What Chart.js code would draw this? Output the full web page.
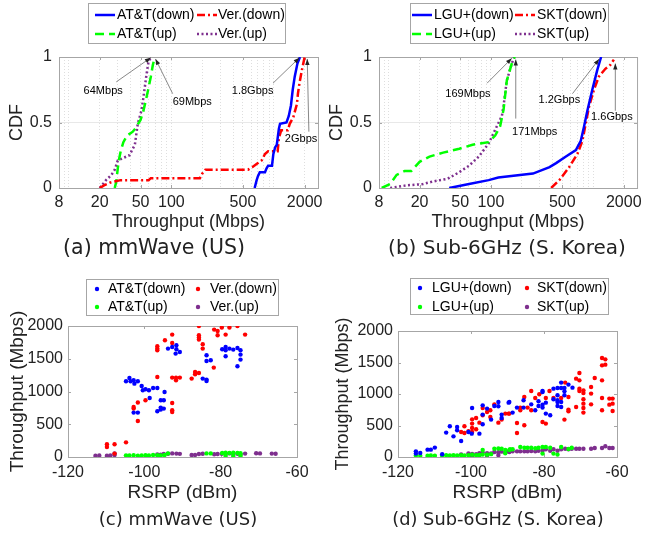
<!DOCTYPE html><html><head>
<title>Throughput CDF and RSRP</title>
<style>
  body { margin: 0; background: #fff; }
  #wrap { position: relative; width: 647px; height: 534px; overflow: hidden; }
  canvas { position: absolute; left: 0; top: 0; }
  .cap { position: absolute; font-family: 'DejaVu Sans', sans-serif; color: #222; white-space: nowrap; transform: translate(-50%, -50%); }
</style>
</head>
<body>
<div id="wrap">
  <canvas id="cdfUS" width="647" height="534"></canvas>
  <canvas id="cdfKR" width="647" height="534"></canvas>
  <canvas id="rsrpUS" width="647" height="534"></canvas>
  <canvas id="rsrpKR" width="647" height="534"></canvas>
  <div class="cap" style="left:154px;top:247px;font-size:20.5px">(a) mmWave (US)</div>
  <div class="cap" style="left:507px;top:247px;font-size:20px">(b) Sub-6GHz (S. Korea)</div>
  <div class="cap" style="left:178px;top:518px;font-size:18px">(c) mmWave (US)</div>
  <div class="cap" style="left:498px;top:518px;font-size:17.8px">(d) Sub-6GHz (S. Korea)</div>
</div>
<script src="https://cdn.jsdelivr.net/npm/chart.js"></script>
<script>
// ---- data ----
const usLabels = ['AT&T(down)', 'Ver.(down)', 'AT&T(up)', 'Ver.(up)'];
const krLabels = ['LGU+(down)', 'SKT(down)', 'LGU+(up)', 'SKT(up)'];

// (a) CDF, mmWave US  (throughput Mbps, cdf)
const usAttDownX = [650, 680, 700, 730, 820, 850, 880, 960, 990, 1030, 1070, 1120, 1150, 1330, 1400, 1470, 1530, 1600, 1700, 1800];
const usAttDownY = [0, 0.06, 0.09, 0.12, 0.12, 0.15, 0.17, 0.17, 0.26, 0.31, 0.33, 0.45, 0.49, 0.5, 0.55, 0.63, 0.75, 0.85, 0.95, 1];
const usVerDownX = [20, 22, 25, 28, 32, 60, 63, 190, 200, 215, 560, 620, 700, 760, 820, 880, 1090, 1120, 1180, 1370, 1430, 1550, 1680, 1720, 1780, 1880, 2000];
const usVerDownY = [0, 0.02, 0.04, 0.05, 0.06, 0.06, 0.075, 0.075, 0.11, 0.14, 0.14, 0.16, 0.19, 0.21, 0.26, 0.28, 0.28, 0.38, 0.44, 0.44, 0.49, 0.54, 0.64, 0.72, 0.8, 0.9, 1];
const usAttUpX = [28, 29, 30.5, 32, 34, 37, 42, 45, 50, 53, 56, 59, 63, 66, 69];
const usAttUpY = [0, 0.05, 0.2, 0.28, 0.35, 0.4, 0.43, 0.46, 0.52, 0.58, 0.66, 0.74, 0.85, 0.94, 1];
const usVerUpX = [20, 23, 26, 28, 30, 34, 39, 42, 44, 47, 51, 54, 57, 60, 64];
const usVerUpY = [0, 0.06, 0.1, 0.14, 0.21, 0.23, 0.25, 0.3, 0.33, 0.49, 0.59, 0.72, 0.86, 0.97, 1];

// (b) CDF, Sub-6GHz Korea
const krLguDownX = [39, 61, 95, 118, 258, 375, 435, 543, 679, 759, 817, 880, 984, 1100, 1200];
const krLguDownY = [0, 0.03, 0.06, 0.08, 0.11, 0.16, 0.19, 0.24, 0.29, 0.36, 0.47, 0.59, 0.75, 0.9, 1];
const krSktDownX = [389, 468, 585, 703, 787, 848, 913, 1021, 1141, 1322, 1479, 1600];
const krSktDownY = [0, 0.06, 0.16, 0.26, 0.36, 0.49, 0.62, 0.75, 0.85, 0.91, 0.94, 0.98];
const krLguUpX = [8.5, 10.3, 11.9, 14.3, 16.6, 20, 25, 34, 49, 66, 95, 110, 123, 133, 143, 160, 171];
const krLguUpY = [0, 0.03, 0.1, 0.13, 0.13, 0.2, 0.24, 0.27, 0.3, 0.33, 0.35, 0.4, 0.47, 0.6, 0.82, 0.95, 1];
const krSktUpX = [10.3, 14.9, 21.6, 27, 37.6, 48.7, 61, 76, 95, 114, 128, 133, 143, 160, 169];
const krSktUpY = [0, 0.02, 0.03, 0.05, 0.07, 0.12, 0.17, 0.24, 0.34, 0.47, 0.55, 0.63, 0.82, 0.95, 1];

// callouts: [text, textX, textY, tailX, tailY, headX, headY] in data units
const usNotes = [
  ['64Mbps', 21.6, 0.74, 29, 0.81, 63, 0.995],
  ['69Mbps', 160, 0.66, 103, 0.72, 70, 0.985],
  ['1.8Gbps', 621, 0.74, 982, 0.80, 1780, 0.995],
  ['2Gbps', 1845, 0.377, 2200, 0.43, 2120, 0.985]
];
const krNotes = [
  ['169Mbps', 59.5, 0.72, 91.6, 0.80, 160, 0.99],
  ['171Mbps', 268, 0.43, 175, 0.53, 175, 0.98],
  ['1.2Gbps', 468, 0.67, 629, 0.72, 1150, 0.985],
  ['1.6Gbps', 1531, 0.54, 1654, 0.59, 1654, 0.95]
];

// (c) RSRP scatter, mmWave US  (dBm, Mbps)
const usAttDownRsrp = [-104.8,-103.9,-103.6,-102.8,-102.6,-101.7,-100.7,-100.4,-99.7,-98.8,-97.7,-96.6,-94.7,-98.6,-102.8,-101.7,-95.7,-94.9,-96.6,-95.7,-95.7,-94.9,-93.8,-92.7,-91.6,-91.6,-90.7,-91.8,-83.7,-83.7,-82.6,-84.7,-83.7,-83.7,-79.6,-78.7,-78.7,-78.7,-77.7,-76.7,-75.6,-74.8,-74.8,-74.8,-75.6];
const usAttDownTput = [1156,1207,1156,1171,1120,1156,1084,1018,1034,1018,1054,1054,993,901,678,678,866,866,698,724,754,739,1655,1680,1706,1645,1604,1579,1553,1466,1476,1197,1182,1161,1645,1680,1630,1538,1655,1640,1665,1630,1563,1487,1385];
const usVerDownRsrp = [-109.8,-109.8,-107.8,-107.8,-104.8,-101.7,-102.8,-102.8,-101.7,-99.7,-96.6,-96.6,-96.6,-96.6,-94.6,-92.7,-92.7,-92.7,-92.7,-92.7,-92.7,-91.7,-91.7,-90.7,-85.7,-85.7,-85.7,-85.7,-84.7,-84.7,-81.8,-86.7,-86.7,-85.7,-87.6,-81.7,-80.8,-80.8,-79.7,-78.7,-77.7,-75.6,-73.6];
const usVerDownTput = [194,153,194,52,224,550,763,739,831,866,1222,1690,1655,1630,1782,1869,1741,825,713,688,1212,1212,1171,1212,2000,1858,1823,1793,1721,1655,1365,1298,1263,1283,1197,1945,1924,1858,1976,1869,1976,2000,1869];
const usAttUpRsrp = [-104.8,-103.9,-102.8,-101.7,-100.7,-99.7,-98.8,-97.7,-96.6,-95.7,-94.7,-93.8,-83.7,-82.6,-79.6,-78.7,-78.7,-77.7,-76.7,-76.7,-75.6,-74.8,-74.8];
const usAttUpTput = [25,22,28,20,24,26,22,30,28,25,30,55,55,55,60,65,20,62,64,15,60,58,18];
const usVerUpRsrp = [-112.8,-111.8,-109.8,-108.9,-107.8,-107.8,-96.6,-95.7,-94.9,-93.8,-92.7,-91.6,-90.7,-87.6,-86.7,-85.7,-84.7,-81.7,-80.8,-79.7,-78.7,-77.7,-76.7,-75.6,-74.8,-73.6,-70.7,-69.7,-66.6,-65.6];
const usVerUpTput = [20,22,18,25,30,55,40,35,45,50,55,52,48,30,32,45,50,42,45,48,50,55,45,50,40,52,58,55,52,50];

// (d) RSRP scatter, Sub-6GHz Korea
const krLguDownRsrp = [-115.1,-115.1,-113.9,-111.9,-111.0,-109.9,-107.9,-106.8,-105.8,-104.8,-103.8,-103.8,-102.7,-99.7,-99.8,-100.7,-97.7,-96.8,-96.8,-96.8,-95.6,-94.5,-93.6,-92.5,-92.5,-91.6,-91.6,-89.5,-89.7,-88.6,-87.4,-85.6,-85.6,-83.5,-82.4,-81.5,-81.5,-80.4,-80.4,-80.4,-80.4,-79.5,-79.5,-78.3,-77.4,-77.4,-76.3,-76.3,-76.3,-76.3,-76.3,-75.3,-75.3,-75.3,-75.3,-74.4,-74.4,-74.4,-73.3,-72.2];
const krLguDownTput = [90,54,64,117,117,149,43,387,487,328,476,424,254,778,371,397,371,820,673,519,768,594,809,873,805,673,619,873,863,705,784,784,900,836,741,884,809,1047,1031,831,784,863,689,662,1085,916,1095,979,900,873,809,1181,1095,794,873,1095,1042,979,1149,1101];
const krSktDownRsrp = [-102.7,-101.8,-101.8,-100.7,-99.7,-99.7,-99.7,-99.7,-98.6,-98.6,-97.7,-96.8,-96.8,-95.6,-94.7,-94.7,-93.6,-92.5,-91.6,-90.6,-89.5,-89.7,-87.4,-87.4,-86.5,-86.5,-85.4,-85.4,-84.5,-83.5,-83.5,-82.4,-81.3,-80.4,-79.5,-79.5,-78.5,-77.4,-75.3,-74.4,-74.2,-73.3,-73.3,-73.3,-71.2,-71.2,-70.3,-70.3,-70.3,-70.3,-69.2,-69.2,-69.2,-69.2,-69.2,-69.2,-67.1,-67.1,-67.1,-66.1,-64.1,-64.1,-64.1,-64.1,-64.1,-63.2,-63.2,-62.1,-62.1,-61.2,-61.2,-61.2];
const krSktDownTput = [397,381,487,408,598,530,460,397,619,440,545,778,662,714,741,635,836,545,594,689,689,689,540,381,784,741,952,503,784,1047,741,936,995,556,530,936,1047,936,936,594,1181,952,752,725,1244,794,1333,1217,1085,1047,1058,1016,916,847,778,705,1111,1006,836,1254,1571,1455,1217,936,741,1550,1466,927,831,927,847,730];
const krLguUpRsrp = [-115.1,-113.9,-111.9,-111.0,-109.9,-107.9,-106.8,-105.8,-104.8,-103.8,-102.7,-101.8,-100.7,-99.7,-98.6,-97.7,-96.8,-96.8,-95.6,-94.5,-93.6,-92.5,-91.6,-90.6,-89.5,-90.6,-89.3,-88.6,-86.5,-85.4,-84.5,-83.5,-82.4,-81.5,-80.4,-80.4,-79.5,-78.3,-77.4,-76.3,-75.3,-73.3,-72.4];
const krLguUpTput = [25,22,20,24,22,25,28,26,30,24,28,25,30,35,28,32,111,40,35,45,130,135,130,60,110,110,122,122,159,148,148,148,138,148,159,54,159,148,54,38,159,127,148];
const krSktUpRsrp = [-102.7,-100.7,-99.7,-98.6,-97.7,-96.8,-95.6,-94.5,-93.6,-92.5,-91.6,-90.6,-89.5,-89.7,-88.6,-87.4,-86.5,-85.4,-84.5,-83.5,-82.4,-81.5,-80.4,-79.5,-78.3,-77.4,-76.3,-75.3,-74.2,-73.3,-72.4,-71.2,-70.3,-69.2,-67.1,-66.1,-64.1,-63.2,-62.1,-61.2,-99.7,-97.7,-95.6,-92.5];
const krSktUpTput = [40,55,50,45,60,70,60,55,80,75,85,70,80,90,90,90,90,90,90,95,90,100,100,122,100,122,100,122,130,122,130,130,130,130,130,143,143,170,143,143,20,30,25,30];

// axis ticks
const cdfTicks = [8, 20, 50, 100, 500, 2000];
const cdfGrid = [8, 9, 10, 20, 30, 40, 50, 60, 70, 80, 90, 100, 200, 300, 400, 500, 600, 700, 800, 900, 1000, 2000];

// ---- styling ----
const W = 647, H = 534;
const colors = ['#0000ff', '#ff0000', '#00ff00', '#7e2f8e'];
const dashes = [[], [8, 3, 2, 3], [9, 5], [2, 2.5]];
Chart.defaults.font.family = "'Liberation Sans', Arial, sans-serif";
Chart.defaults.color = '#222';

function pad(box, yW, xH) {
  return { left: box[0] - yW, right: W - box[1], top: box[2], bottom: H - box[3] - xH };
}

// plot frame with short inward ticks (matlab look)
const frame = {
  id: 'frame',
  beforeDatasetsDraw(chart) {
    const { ctx, chartArea: a, scales } = chart;
    ctx.save();
    ctx.strokeStyle = '#a6a6a6';
    ctx.lineWidth = 1;
    ctx.strokeRect(a.left + 0.5, a.top + 0.5, a.right - a.left, a.bottom - a.top);
    ctx.beginPath();
    scales.x.ticks.forEach((t, i) => {
      if (!t.label) return;
      const px = Math.round(scales.x.getPixelForTick(i)) + 0.5;
      ctx.moveTo(px, a.bottom); ctx.lineTo(px, a.bottom - 3);
      ctx.moveTo(px, a.top); ctx.lineTo(px, a.top + 3);
    });
    scales.y.ticks.forEach((t, i) => {
      const py = Math.round(scales.y.getPixelForTick(i)) + 0.5;
      ctx.moveTo(a.left, py); ctx.lineTo(a.left + 3, py);
      ctx.moveTo(a.right, py); ctx.lineTo(a.right - 3, py);
    });
    ctx.stroke();
    ctx.restore();
  }
};

// boxed 2x2 legend
const keyBox = {
  id: 'keyBox',
  afterDraw(chart, args, o) {
    const ctx = chart.ctx;
    ctx.save();
    ctx.fillStyle = '#fff';
    ctx.fillRect(o.x, o.y, o.w, o.h);
    ctx.strokeStyle = '#a6a6a6';
    ctx.lineWidth = 1;
    ctx.strokeRect(o.x + 0.5, o.y + 0.5, o.w, o.h);
    ctx.font = "14px 'Liberation Sans', Arial, sans-serif";
    ctx.textBaseline = 'middle';
    chart.data.datasets.forEach((ds, i) => {
      const col = i % 2, row = Math.floor(i / 2);
      const sx = o.sampleX[col], y = o.rowY[row];
      if (o.lines) {
        ctx.strokeStyle = ds.borderColor;
        ctx.lineWidth = ds.borderWidth;
        ctx.setLineDash(ds.borderDash);
        ctx.beginPath(); ctx.moveTo(sx, y); ctx.lineTo(sx + 20, y); ctx.stroke();
        ctx.setLineDash([]);
      } else {
        ctx.fillStyle = ds.backgroundColor;
        ctx.beginPath(); ctx.arc(sx, y, ds.pointRadius, 0, Math.PI * 2); ctx.fill();
      }
      ctx.fillStyle = '#000';
      ctx.fillText(ds.label, o.textX[col], y);
    });
    ctx.restore();
  }
};

// text + arrow callouts
const callouts = {
  id: 'callouts',
  afterDatasetsDraw(chart, args, o) {
    if (!o.items) return;
    const { ctx, scales: { x, y } } = chart;
    ctx.save();
    ctx.font = "11px 'Liberation Sans', Arial, sans-serif";
    ctx.textAlign = 'center';
    ctx.textBaseline = 'middle';
    o.items.forEach(n => {
      const tx = x.getPixelForValue(n[1]), ty = y.getPixelForValue(n[2]);
      const ax = x.getPixelForValue(n[3]), ay = y.getPixelForValue(n[4]);
      const hx = x.getPixelForValue(n[5]), hy = y.getPixelForValue(n[6]);
      ctx.fillStyle = '#000';
      ctx.fillText(n[0], tx, ty);
      ctx.strokeStyle = '#555';
      ctx.lineWidth = 0.7;
      ctx.beginPath(); ctx.moveTo(ax, ay); ctx.lineTo(hx, hy); ctx.stroke();
      const ang = Math.atan2(hy - ay, hx - ax);
      ctx.fillStyle = '#222';
      ctx.beginPath();
      ctx.moveTo(hx, hy);
      ctx.lineTo(hx - 6 * Math.cos(ang) + 2.2 * Math.sin(ang), hy - 6 * Math.sin(ang) - 2.2 * Math.cos(ang));
      ctx.lineTo(hx - 6 * Math.cos(ang) - 2.2 * Math.sin(ang), hy - 6 * Math.sin(ang) + 2.2 * Math.cos(ang));
      ctx.closePath(); ctx.fill();
    });
    ctx.restore();
  }
};

function makeCdf(id, labels, xsList, ysList, box, yW, yTitlePad, key, notes) {
  new Chart(document.getElementById(id), {
    type: 'line',
    data: {
      datasets: labels.map((lab, i) => ({
        label: lab,
        data: xsList[i].map((v, j) => ({ x: v, y: ysList[i][j] })),
        borderColor: colors[i],
        borderDash: dashes[i],
        borderWidth: 2.5,
        pointRadius: 0,
        fill: false,
        tension: 0
      }))
    },
    options: {
      responsive: false, animation: false, events: [],
      layout: { padding: pad(box, yW, 47) },
      scales: {
        x: {
          type: 'logarithmic', min: 8, max: 2700,
          afterFit: s => { s.height = 47; },
          afterBuildTicks: s => { s.ticks = cdfGrid.map(v => ({ value: v })); },
          ticks: { autoSkip: false, maxRotation: 0, padding: 5, font: { size: 16 },
                   callback: v => cdfTicks.includes(v) ? String(v) : '' },
          grid: { drawTicks: false, color: '#dedede' },
          border: { display: false, dash: [1, 2] },
          title: { display: true, text: 'Throughput (Mbps)', font: { size: 18 }, padding: { top: 0, bottom: 2 } }
        },
        y: {
          min: 0, max: 1,
          afterFit: s => { s.width = yW; },
          ticks: { stepSize: 0.5, padding: 7, font: { size: 16 }, callback: v => String(v) },
          grid: { drawTicks: false, color: '#e8e8e8' },
          border: { display: false },
          title: { display: true, text: 'CDF', font: { size: 18 }, padding: { top: yTitlePad, bottom: 0 } }
        }
      },
      plugins: { legend: { display: false }, tooltip: { enabled: false }, keyBox: key, callouts: { items: notes } }
    },
    plugins: [frame, keyBox, callouts]
  });
}

function makeScatter(id, labels, xsList, ysList, box, yW, yTitlePad, yTitleSize, key) {
  new Chart(document.getElementById(id), {
    type: 'scatter',
    data: {
      datasets: labels.map((lab, i) => ({
        label: lab,
        data: xsList[i].map((v, j) => ({ x: v, y: ysList[i][j] })),
        backgroundColor: colors[i],
        borderWidth: 0,
        pointRadius: 2.2
      }))
    },
    options: {
      responsive: false, animation: false, events: [],
      layout: { padding: pad(box, yW, 47) },
      scales: {
        x: {
          min: -120, max: -60,
          afterFit: s => { s.height = 47; },
          ticks: { stepSize: 20, padding: 6, font: { size: 16 }, callback: v => String(v) },
          grid: { display: false, drawTicks: false },
          border: { display: false },
          title: { display: true, text: 'RSRP (dBm)', font: { size: 19 }, padding: { top: 0, bottom: 0 } }
        },
        y: {
          min: 0, max: 2000,
          afterFit: s => { s.width = yW; },
          ticks: { stepSize: 500, padding: 5, font: { size: 16 }, callback: v => String(v) },
          grid: { display: false, drawTicks: false },
          border: { display: false },
          title: { display: true, text: 'Throughput (Mbps)', font: { size: yTitleSize }, padding: { top: yTitlePad, bottom: 0 } }
        }
      },
      plugins: { legend: { display: false }, tooltip: { enabled: false }, keyBox: key }
    },
    plugins: [frame, keyBox]
  });
}

// box = [left, right, top, bottom] of the plot area
makeCdf('cdfUS', usLabels,
  [usAttDownX, usVerDownX, usAttUpX, usVerUpX], [usAttDownY, usVerDownY, usAttUpY, usVerUpY],
  [59, 318, 57, 188], 59, 6.5,
  { lines: true, x: 88, y: 3, w: 197, h: 40, sampleX: [95, 197], textX: [117, 218], rowY: [15, 34] },
  usNotes);

makeCdf('cdfKR', krLabels,
  [krLguDownX, krSktDownX, krLguUpX, krSktUpX], [krLguDownY, krSktDownY, krLguUpY, krSktUpY],
  [379, 638, 57, 188], 59, 6.5,
  { lines: true, x: 410, y: 3, w: 198, h: 40, sampleX: [412, 515], textX: [434, 537], rowY: [15, 34] },
  krNotes);

makeScatter('rsrpUS', usLabels,
  [usAttDownRsrp, usVerDownRsrp, usAttUpRsrp, usVerUpRsrp], [usAttDownTput, usVerDownTput, usAttUpTput, usVerUpTput],
  [68, 297, 326, 457], 68, 6.6, 19,
  { lines: false, x: 86, y: 279, w: 192, h: 36, sampleX: [97, 198], textX: [108, 210], rowY: [289, 307] });

makeScatter('rsrpKR', krLabels,
  [krLguDownRsrp, krSktDownRsrp, krLguUpRsrp, krSktUpRsrp], [krLguDownTput, krSktDownTput, krLguUpTput, krSktUpTput],
  [398, 617, 331, 457], 78, 12.5, 18,
  { lines: false, x: 410, y: 278, w: 198, h: 36, sampleX: [420, 527], textX: [432, 537], rowY: [288, 307] });
</script>
</body></html>
